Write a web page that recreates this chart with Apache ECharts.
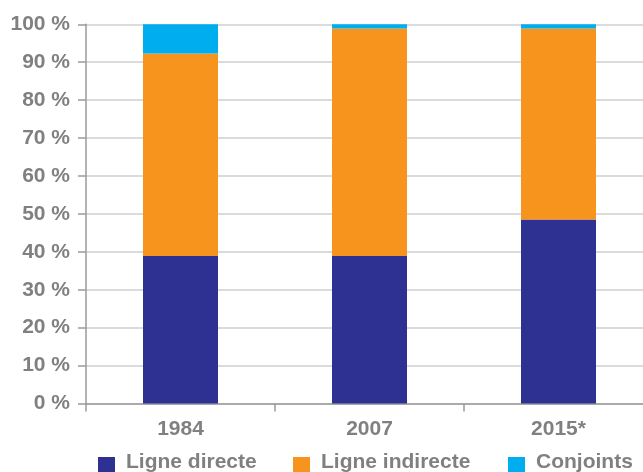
<!DOCTYPE html>
<html>
<head>
<meta charset="utf-8">
<script src="https://cdn.jsdelivr.net/npm/echarts@6/dist/echarts.min.js"></script>
<style>
html,body{margin:0;padding:0;background:#fff;overflow:hidden;}
#chart{width:653px;height:472px;}
</style>
</head>
<body>
<div id="chart"></div>
<script>
const categories = ['1984', '2007', '2015*'];
const ligneDirecte = [38.9, 38.9, 48.5];
const ligneIndirecte = [53.4, 60.0, 50.4];
const conjoints = [7.7, 1.1, 1.1];
const seriesNames = ['Ligne directe', 'Ligne indirecte', 'Conjoints'];
const colors = ['#2E3192', '#F7941D', '#00AEEF'];

const textColor = '#808080';
const font = 'Liberation Sans';

const chart = echarts.init(document.getElementById('chart'), null, {renderer: 'canvas'});
const legendLefts = [98, 293, 508];
const option = {
  animation: false,
  color: colors,
  grid: {left: 86, right: 0, top: 24.3, bottom: 68.5, containLabel: false},
  legend: seriesNames.map((n, i) => ({
    data: [n],
    left: legendLefts[i],
    top: 450,
    icon: 'path://M0,0L17,0L0,0ZM0,7L17,7L17,24L0,24Z',
    itemWidth: 17,
    itemHeight: 24,
    itemGap: 11,
    padding: 0,
    selectedMode: false,
    textStyle: {color: textColor, fontFamily: font, fontWeight: 'bold', fontSize: 21, padding: [0, 0, 0, 6]}
  })),
  xAxis: {
    type: 'category',
    data: categories,
    axisLine: {lineStyle: {color: '#9a9a9a', width: 1.5}},
    axisTick: {show: true, length: 8, lineStyle: {color: '#9a9a9a', width: 1.5}},
    axisLabel: {color: textColor, fontFamily: font, fontWeight: 'bold', fontSize: 21, margin: 15}
  },
  yAxis: {
    type: 'value',
    min: 0,
    max: 100,
    interval: 10,
    axisLine: {show: true, lineStyle: {color: '#9a9a9a', width: 1.5}},
    axisTick: {show: true, length: 8, lineStyle: {color: '#9a9a9a', width: 1.5}},
    splitLine: {lineStyle: {color: '#cfcfcf', width: 1.5}},
    axisLabel: {color: textColor, fontFamily: font, fontWeight: 'bold', fontSize: 21, margin: 16,
      formatter: v => v + ' %'}
  },
  series: [
    {name: seriesNames[0], type: 'bar', stack: 'total', data: ligneDirecte, barWidth: 75},
    {name: seriesNames[1], type: 'bar', stack: 'total', data: ligneIndirecte, barWidth: 75},
    {name: seriesNames[2], type: 'bar', stack: 'total', data: conjoints, barWidth: 75}
  ]
};
chart.setOption(option);
</script>
</body>
</html>
